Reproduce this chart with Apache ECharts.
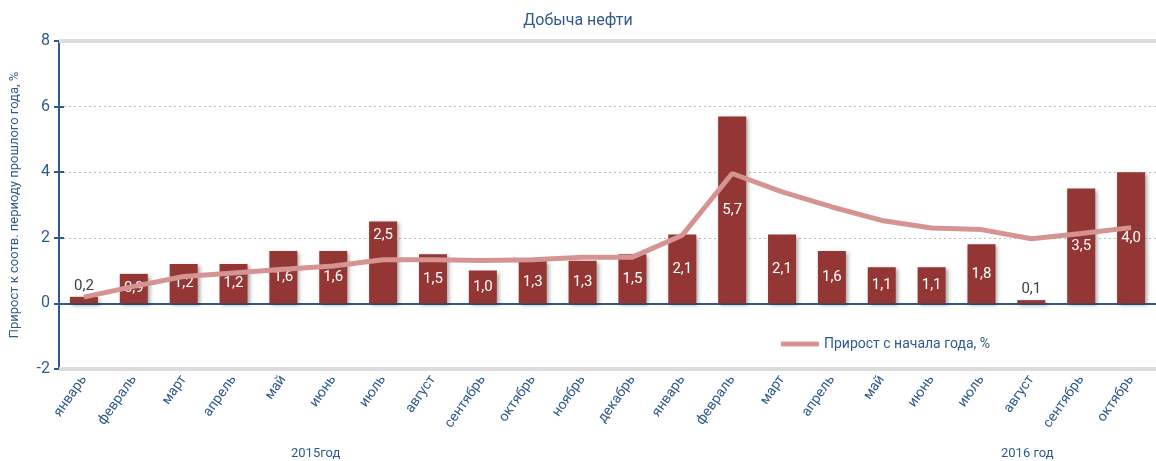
<!DOCTYPE html>
<html>
<head>
<meta charset="utf-8">
<script src="https://cdn.jsdelivr.net/npm/echarts@6/dist/echarts.min.js"></script>
<style>
  html, body { margin: 0; padding: 0; background: #fff; }
  #chart { width: 1156px; height: 461px; }
</style>
</head>
<body>
<div id="chart"></div>
<script>
// months, 2015 january .. 2016 october
var months = ['январь', 'февраль', 'март', 'апрель', 'май', 'июнь', 'июль', 'август', 'сентябрь', 'октябрь', 'ноябрь', 'декабрь',
    'январь', 'февраль', 'март', 'апрель', 'май', 'июнь', 'июль', 'август', 'сентябрь', 'октябрь'];
// прирост к соотв. периоду прошлого года, %
var yoy = [0.2, 0.9, 1.2, 1.2, 1.6, 1.6, 2.5, 1.5, 1.0, 1.3, 1.3, 1.5,
    2.1, 5.7, 2.1, 1.6, 1.1, 1.1, 1.8, 0.1, 3.5, 4.0];
// прирост с начала года, %
var ytd = [0.19, 0.52, 0.82, 0.93, 1.04, 1.14, 1.33, 1.33, 1.31, 1.33, 1.41, 1.41,
    2.08, 3.96, 3.4, 2.94, 2.53, 2.3, 2.25, 1.97, 2.13, 2.31];
var yTicks = { min: -2, max: 8, interval: 2 };
var years = ['2015год', '2016 год'];

var blue = '#2f5b8c';
var font = "'Liberation Sans Narrow', 'Roboto', sans-serif";

var chartDom = document.getElementById('chart');
var myChart = echarts.init(chartDom);

function fmt(v) {
    return v.toFixed(1).replace('.', ',');
}

var barData = yoy.map(function (v, i) {
    var small = v < 0.5;
    var lbl = {
        position: small ? 'top' : 'inside',
        color: small ? '#404040' : '#fff',
        distance: 3
    };
    // the july label sits high in the bar, clear of the line
    if (i === 6) {
        lbl.position = 'insideTop';
        lbl.distance = 6;
    }
    return { value: v, label: lbl };
});

var option = {
    backgroundColor: '#fff',
    textStyle: { fontFamily: font },
    title: {
        text: 'Добыча нефти',
        left: 'center',
        top: 8,
        textStyle: { color: blue, fontSize: 16, fontWeight: 'normal', fontFamily: font }
    },
    legend: {
        data: ['Прирост с начала года, %'],
        left: 776,
        top: 332,
        icon: 'roundRect',
        itemWidth: 38,
        itemHeight: 5,
        itemGap: 3,
        textStyle: { color: blue, fontSize: 14, fontFamily: font }
    },
    graphic: [
        { type: 'text', left: 291, top: 447, style: { text: years[0], fill: blue, fontSize: 13, fontFamily: font } },
        { type: 'text', left: 1001, top: 447, style: { text: years[1], fill: blue, fontSize: 13, fontFamily: font } }
    ],
    grid: {
        left: 59,
        top: 41,
        width: 1107,
        bottom: 92
    },
    xAxis: [
        {
            type: 'category',
            data: months,
            position: 'bottom',
            axisLine: { onZero: true, lineStyle: { color: blue, width: 2 } },
            axisTick: { length: 6, interval: 0, lineStyle: { color: blue, width: 1.5 } },
            axisLabel: { show: false }
        },
        {
            type: 'category',
            data: months,
            position: 'bottom',
            axisLine: { show: false, onZero: true },
            axisTick: { inside: true, length: 5, interval: 0, lineStyle: { color: blue, width: 1.5 } },
            axisLabel: { show: false }
        },
        {
            type: 'category',
            data: months,
            position: 'bottom',
            axisLine: { show: false, onZero: false },
            axisTick: { show: false },
            axisLabel: { interval: 0, rotate: 55, margin: 8, color: blue, fontSize: 14, fontFamily: font }
        }
    ],
    yAxis: [
        {
            type: 'value',
            position: 'left',
            min: yTicks.min,
            max: yTicks.max,
            interval: yTicks.interval,
            name: 'Прирост к соотв. периоду прошлого года, %',
            nameLocation: 'middle',
            nameGap: 38,
            nameTextStyle: { color: blue, fontSize: 13, fontFamily: font },
            axisLine: { show: true, lineStyle: { color: blue, width: 2 } },
            axisTick: { show: true, length: 5, lineStyle: { color: blue, width: 2 } },
            axisLabel: { color: blue, fontSize: 16, margin: 9, fontFamily: font },
            splitLine: { lineStyle: { color: '#bdbdbd', type: [2, 3], width: 1 } }
        },
        {
            type: 'value',
            position: 'left',
            min: yTicks.min,
            max: yTicks.max,
            interval: yTicks.interval,
            axisLine: { show: false },
            axisTick: { show: true, inside: true, length: 5, lineStyle: { color: blue, width: 2 } },
            axisLabel: { show: false },
            splitLine: { show: false }
        }
    ],
    series: [
        {
            name: 'Прирост к соотв. периоду прошлого года, %',
            type: 'bar',
            xAxisIndex: 0,
            yAxisIndex: 0,
            data: barData,
            barWidth: 28,
            itemStyle: {
                color: '#943634',
                shadowColor: 'rgba(0,0,0,0.35)',
                shadowBlur: 4,
                shadowOffsetX: 2,
                shadowOffsetY: 2
            },
            label: {
                show: true,
                fontSize: 15,
                fontFamily: font,
                formatter: function (p) { return fmt(p.value); }
            },
            markLine: {
                silent: true,
                symbol: 'none',
                label: { show: false },
                lineStyle: { color: '#dcdcdc', type: 'solid', width: 4 },
                data: [{ yAxis: yTicks.max }, { yAxis: yTicks.min }]
            },
            z: 2
        },
        {
            name: 'Прирост с начала года, %',
            type: 'line',
            xAxisIndex: 0,
            yAxisIndex: 0,
            data: ytd,
            showSymbol: false,
            symbol: 'none',
            lineStyle: { color: '#d59392', width: 5 },
            itemStyle: { color: '#d59392' },
            z: 3
        }
    ],
    animation: false
};

option && myChart.setOption(option);
</script>
</body>
</html>
